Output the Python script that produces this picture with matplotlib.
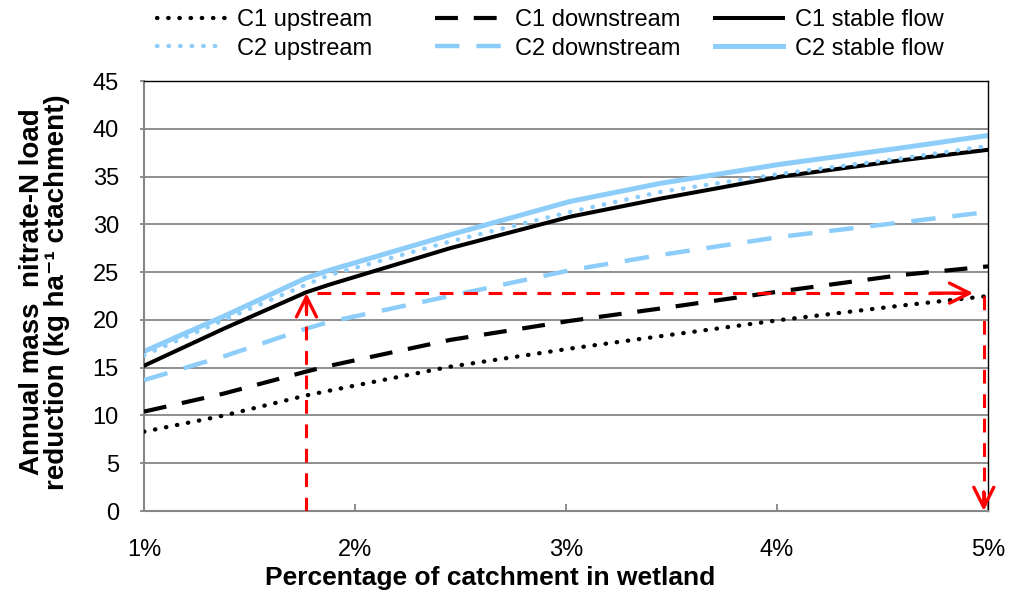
import matplotlib
matplotlib.use("Agg")
import matplotlib.pyplot as plt

plt.rcParams['font.family'] = ['Liberation Sans', 'DejaVu Sans']

# ---- data ----
pct = [1.0, 1.38, 1.77, 1.88, 2.45, 3.02, 3.45, 4.02, 4.59, 5.0]
c1_upstream   = [8.3, 10.0, 12.1, 12.6, 15.1, 17.0, 18.3, 20.0, 21.5, 22.5]
c2_upstream   = [16.3, 20.0, 23.7, 24.7, 28.2, 31.3, 33.4, 35.3, 36.9, 38.2]
c1_downstream = [10.4, 12.3, 14.6, 15.2, 17.9, 19.9, 21.2, 23.0, 24.7, 25.6]
c2_downstream = [13.7, 16.2, 19.1, 19.8, 22.5, 25.2, 26.8, 28.7, 30.2, 31.3]
c1_stable     = [15.2, 19.1, 22.9, 23.7, 27.5, 30.8, 32.7, 35.0, 36.7, 37.8]
c2_stable     = [16.7, 20.4, 24.4, 25.2, 28.9, 32.4, 34.3, 36.3, 38.0, 39.3]

x_ticks = [1, 2, 3, 4, 5]
x_tick_labels = ['1%', '2%', '3%', '4%', '5%']
y_ticks = [0, 5, 10, 15, 20, 25, 30, 35, 40, 45]

# guide arrows (example reading)
guide_x = 1.77
guide_y = 22.8
guide_end_x = 4.93
guide_drop_x = 4.98
guide_drop_y = 22.5

BLUE = '#8DCDF9'
GRID = '#868686'
W, H = 1011, 595

fig = plt.figure(figsize=(W / 100, H / 100), dpi=100)
ax = fig.add_axes([144 / W, 1 - 511 / H, (988 - 144) / W, (511 - 81) / H])

dot = (0, (0.1, 2.5))
dash = (0, (5.5, 3.8))

l1 = ax.plot(pct, c1_upstream, color='black', lw=3.1, linestyle=dot, dash_capstyle='round', label='C1 upstream', zorder=3)[0]
l2 = ax.plot(pct, c2_upstream, color=BLUE, lw=3.2, linestyle=dot, dash_capstyle='round', label='C2 upstream', zorder=4)[0]
l3 = ax.plot(pct, c1_downstream, color='black', lw=3.0, linestyle=dash, label='C1 downstream', zorder=3)[0]
l4 = ax.plot(pct, c2_downstream, color=BLUE, lw=3.2, linestyle=dash, label='C2 downstream', zorder=3)[0]
l5 = ax.plot(pct, c1_stable, color='black', lw=2.9, label='C1 stable flow', zorder=3)[0]
l6 = ax.plot(pct, c2_stable, color=BLUE, lw=3.6, label='C2 stable flow', zorder=2)[0]

# red guide lines and arrowheads
red_kw = dict(color='red', lw=2.2, linestyle=(0, (4.5, 3.5)), zorder=5)
ax.plot([guide_x, guide_x], [0, guide_y - 0.6], **red_kw)
ax.plot([guide_x + 0.05, guide_end_x - 0.05], [guide_y, guide_y], **red_kw)
ax.plot([guide_drop_x, guide_drop_x], [guide_drop_y, 0.6], **red_kw)
head = dict(arrowstyle='->', color='red', lw=2.4, mutation_scale=36, shrinkA=0, shrinkB=0)
ax.annotate('', xy=(guide_x, guide_y), xytext=(guide_x, guide_y - 2.0), arrowprops=head, zorder=6)
ax.annotate('', xy=(guide_end_x, guide_y), xytext=(guide_end_x - 0.2, guide_y), arrowprops=head, zorder=6)
ax.annotate('', xy=(guide_drop_x, 0), xytext=(guide_drop_x, 2.0), arrowprops=head, zorder=6)

ax.set_xlim(1, 5)
ax.set_ylim(0, 45)
ax.set_xticks(x_ticks)
ax.set_xticklabels(x_tick_labels)
ax.set_yticks(y_ticks)
ax.yaxis.grid(True, color=GRID, lw=1.3)
ax.set_axisbelow(True)

for s in ['left', 'bottom']:
    ax.spines[s].set_color(GRID)
    ax.spines[s].set_linewidth(1.5)
for s in ['top', 'right']:
    ax.spines[s].set_color('black')
    ax.spines[s].set_linewidth(1.0)

ax.tick_params(axis='y', direction='out', length=3, width=1.3, color=GRID, labelsize=17, pad=15)
ax.tick_params(axis='x', direction='in', length=5, width=1.3, color=GRID, labelsize=17, pad=20)

ax.set_xlabel('Percentage of catchment in wetland', fontsize=19, fontweight='bold')
ax.xaxis.set_label_coords(0.41, -0.128)
ax.set_ylabel('Annual mass  nitrate-N load\nreduction (kg ha\u207b\u00b9 ctachment)',
              fontsize=20, fontweight='bold', linespacing=0.95)
ax.yaxis.set_label_coords(-0.088, 0.51)

# legend: three columns placed like the reference
cols = [([l1, l2], 157), ([l3, l4], 435), ([l5, l6], 715)]
for hs, xpix in cols:
    leg = fig.legend(hs, [h.get_label() for h in hs], loc='upper left',
                     bbox_to_anchor=(xpix / W, 1 - 9 / H), frameon=False, fontsize=17,
                     handlelength=2.9, handletextpad=0.5, labelspacing=0.28,
                     borderpad=0, borderaxespad=0)

fig.savefig('out.png', dpi=100)
